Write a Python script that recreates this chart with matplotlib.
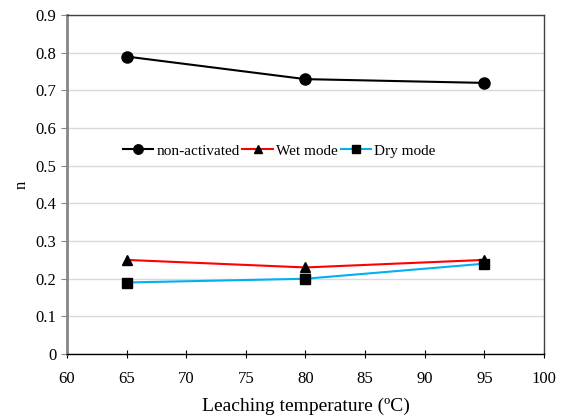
import matplotlib.pyplot as plt

# data
temps = [65, 80, 95]
non_activated = [0.79, 0.73, 0.72]
wet_mode = [0.25, 0.23, 0.25]
dry_mode = [0.19, 0.20, 0.24]

plt.rcParams['font.family'] = ['Liberation Serif', 'DejaVu Serif']

fig = plt.figure(figsize=(5.62, 4.20), dpi=100)
ax = fig.add_axes([0.119, 0.157, 0.849, 0.807])

ax.plot(temps, non_activated, color='black', lw=1.5, marker='o', ms=8,
        markerfacecolor='black', label='non-activated')
ax.plot(temps, wet_mode, color='#ff0000', lw=1.5, marker='^', ms=7,
        markerfacecolor='black', markeredgecolor='black', label='Wet mode')
ax.plot(temps, dry_mode, color='#00b0f0', lw=1.5, marker='s', ms=7,
        markerfacecolor='black', markeredgecolor='black', label='Dry mode')

ax.set_xlim(60, 100)
ax.set_ylim(0, 0.9)
ax.set_xticks(range(60, 101, 5))
ax.set_yticks([i / 10 for i in range(10)])
ax.set_yticklabels(['0'] + ['%.1f' % (i / 10) for i in range(1, 10)])
ax.yaxis.grid(True, color='#d9d9d9', lw=1)
ax.set_axisbelow(True)

for s in ['top', 'right']:
    ax.spines[s].set_color('#404040')
    ax.spines[s].set_linewidth(1)
ax.spines['left'].set_color('#868686')
ax.spines['left'].set_linewidth(2)
ax.spines['bottom'].set_color('black')
ax.spines['bottom'].set_linewidth(1)

ax.tick_params(axis='x', direction='inout', length=6, labelsize=12, pad=9)
ax.tick_params(axis='y', direction='out', length=4, color='#868686', labelsize=12)

ax.set_xlabel('Leaching temperature (ºC)', fontsize=14, labelpad=8)
ax.set_ylabel('n', fontsize=12, labelpad=4)

ax.legend(loc='center', bbox_to_anchor=(0.445, 0.60), ncol=3, frameon=False,
          fontsize=11, handlelength=2.0, handletextpad=0.2, columnspacing=0.2,
          borderpad=0, markerscale=0.85)

fig.savefig('out.png', dpi=100)
